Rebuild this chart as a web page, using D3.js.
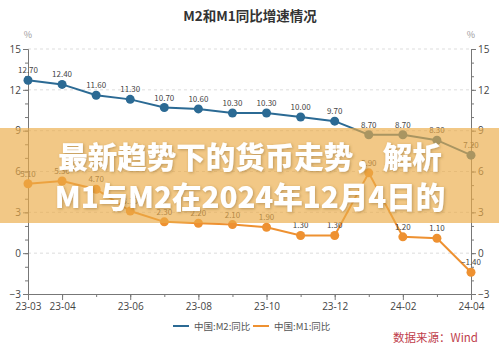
<!DOCTYPE html>
<html>
<head>
<meta charset="utf-8">
<script src="https://cdn.jsdelivr.net/npm/d3@7/dist/d3.min.js"></script>
<style>
  html, body { margin: 0; padding: 0; background: #fff; }
  #chart { width: 499px; height: 353px; }
  text { font-family: "Noto Sans CJK SC", "Noto Sans", sans-serif; }
</style>
</head>
<body>
<div id="chart"></div>
<script>
// months on the x axis
const months = ["23-03", "23-04", "23-05", "23-06", "23-07", "23-08", "23-09",
  "23-10", "23-11", "23-12", "24-01", "24-02", "24-03", "24-04"];
const labeledMonths = ["23-03", "23-04", "23-06", "23-08", "23-10", "23-12", "24-02", "24-04"];

// year-on-year growth, %
const m2Values = [12.7, 12.4, 11.6, 11.3, 10.7, 10.6, 10.3, 10.3, 10.0, 9.7, 8.7, 8.7, 8.3, 7.2];
const m1Values = [5.1, 5.3, 4.7, 3.1, 2.3, 2.2, 2.1, 1.9, 1.3, 1.3, 5.9, 1.2, 1.1, -1.4];

const yTicks = [-3, 0, 3, 6, 9, 12, 15];
const yMinorTicks = d3.range(-3, 16, 1);

const series = [
  { name: "中国:M2:同比", values: m2Values, color: "#2b6a94" },
  { name: "中国:M1:同比", values: m1Values, color: "#ee9131" }
];

const width = 499, height = 353;
const plotLeft = 28, plotRight = 471, plotTop = 49, plotBottom = 294;

const svg = d3.select("#chart").append("svg")
  .attr("width", width)
  .attr("height", height);

const x = d3.scalePoint().domain(months).range([plotLeft, plotRight]);
const y = d3.scaleLinear().domain([-3, 15]).range([plotBottom, plotTop]);

// title
svg.append("text")
  .attr("x", 250).attr("y", 21)
  .attr("text-anchor", "middle")
  .style("font-size", "13.5px")
  .style("font-weight", "bold")
  .style("fill", "#333")
  .text("M2和M1同比增速情况");

// unit labels
[plotLeft, plotRight].forEach(px => {
  svg.append("text")
    .attr("x", px).attr("y", 38)
    .attr("text-anchor", "middle")
    .style("font-size", "9px")
    .style("fill", "#999")
    .text("%");
});

// grid lines
svg.append("g")
  .selectAll("line")
  .data(yTicks.filter(d => d > -3))
  .join("line")
  .attr("x1", plotLeft).attr("x2", plotRight)
  .attr("y1", d => y(d)).attr("y2", d => y(d))
  .attr("stroke", "#ddd")
  .attr("stroke-dasharray", "3,3");

// y axes (left + right), minor ticks then major ticks
const axisStyle = (g) => {
  g.selectAll("path, line").attr("stroke", "#777");
  g.selectAll("text").style("font-size", "10px").style("fill", "#444")
    .style("font-family", "\"Open Sans\", sans-serif");
};

svg.append("g")
  .attr("transform", `translate(${plotLeft},0)`)
  .call(d3.axisLeft(y).tickValues(yMinorTicks).tickSize(3).tickFormat("").tickSizeOuter(0))
  .call(axisStyle);
svg.append("g")
  .attr("transform", `translate(${plotLeft},0)`)
  .call(d3.axisLeft(y).tickValues(yTicks).tickSize(5).tickPadding(2).tickSizeOuter(0))
  .call(axisStyle);

svg.append("g")
  .attr("transform", `translate(${plotRight},0)`)
  .call(d3.axisRight(y).tickValues(yMinorTicks).tickSize(3).tickFormat("").tickSizeOuter(0))
  .call(axisStyle);
svg.append("g")
  .attr("transform", `translate(${plotRight},0)`)
  .call(d3.axisRight(y).tickValues(yTicks).tickSize(5).tickPadding(2).tickSizeOuter(0))
  .call(axisStyle);

// x axis
svg.append("g")
  .attr("transform", `translate(0,${plotBottom})`)
  .call(d3.axisBottom(x).tickValues(months).tickSize(3).tickFormat("").tickSizeOuter(0))
  .call(axisStyle);
svg.append("g")
  .attr("transform", `translate(0,${plotBottom})`)
  .call(d3.axisBottom(x).tickValues(labeledMonths).tickSize(6).tickPadding(3).tickSizeOuter(0))
  .call(axisStyle);

// lines, dots and value labels
const line = d3.line()
  .x((d, i) => x(months[i]))
  .y(d => y(d));

series.forEach(s => {
  const g = svg.append("g");
  g.append("path")
    .datum(s.values)
    .attr("d", line)
    .attr("fill", "none")
    .attr("stroke", s.color)
    .attr("stroke-width", 2);
  g.selectAll("circle")
    .data(s.values)
    .join("circle")
    .attr("cx", (d, i) => x(months[i]))
    .attr("cy", d => y(d))
    .attr("r", 4.5)
    .attr("fill", s.color);
  g.selectAll("text")
    .data(s.values)
    .join("text")
    .attr("x", (d, i) => x(months[i]))
    .attr("y", d => y(d) - 7)
    .attr("text-anchor", "middle")
    .style("font-size", "8px")
    .style("fill", "#444")
    .text(d => d3.format(".2f")(d));
});

// legend
const legend = svg.append("g").attr("transform", "translate(173,326)");
series.forEach((s, i) => {
  const lg = legend.append("g").attr("transform", `translate(${i * 80},0)`);
  lg.append("line")
    .attr("x1", 0).attr("x2", 16)
    .attr("stroke", s.color).attr("stroke-width", 2);
  lg.append("text")
    .attr("x", 21).attr("y", 3.5)
    .style("font-size", "9.5px")
    .style("fill", "#555")
    .text(s.name);
});

// source
svg.append("text")
  .attr("x", 478).attr("y", 342)
  .attr("text-anchor", "end")
  .style("font-size", "11.5px")
  .style("fill", "#c0404c")
  .text("数据来源：Wind");

// overlay band with headline
svg.append("rect")
  .attr("x", 0).attr("y", 128)
  .attr("width", width).attr("height", 95)
  .attr("fill", "#ecac48")
  .attr("fill-opacity", 0.66);

const defs = svg.append("defs");
const shadow = defs.append("filter").attr("id", "shadow")
  .attr("x", "-10%").attr("y", "-30%").attr("width", "120%").attr("height", "160%");
shadow.append("feDropShadow")
  .attr("dx", 1).attr("dy", 1)
  .attr("stdDeviation", 1.5)
  .attr("flood-color", "#7a5a20")
  .attr("flood-opacity", 0.45);

const headline = ["最新趋势下的货币走势，解析", "M1与M2在2024年12月4日的"];
svg.append("g")
  .selectAll("text")
  .data(headline)
  .join("text")
  .attr("x", 250)
  .attr("y", (d, i) => 168 + i * 40)
  .attr("text-anchor", "middle")
  .attr("filter", "url(#shadow)")
  .style("font-size", "29.5px")
  .style("font-weight", "900")
  .style("fill", "#fff")
  .text(d => d);
</script>
</body>
</html>
